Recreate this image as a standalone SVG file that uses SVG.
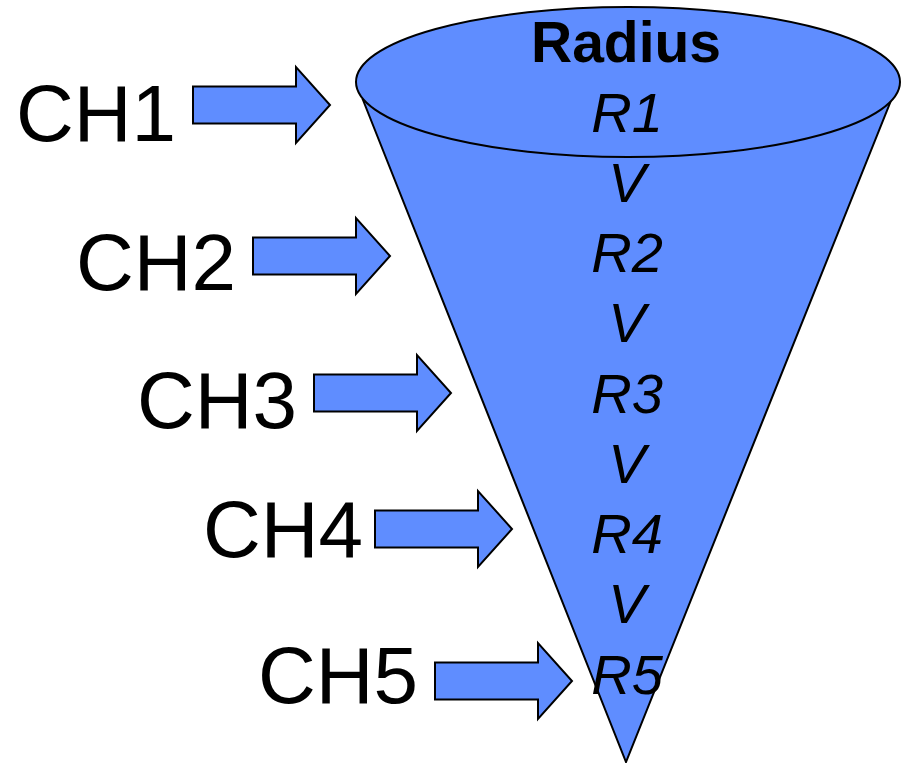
<svg xmlns="http://www.w3.org/2000/svg" xmlns:xlink="http://www.w3.org/1999/xlink" width="904" height="763" viewBox="0 0 904 763">
  <style>
    .shape { fill: #5f8dff; stroke: #000; stroke-width: 2; stroke-linejoin: miter; }
    .ch { font-family: "Liberation Sans", Arial, sans-serif; font-size: 80px; fill: #000; }
    .r { font-family: "Liberation Sans", Arial, sans-serif; font-size: 56px; font-style: italic; fill: #000; text-anchor: middle; }
    .title { font-family: "Liberation Sans", Arial, sans-serif; font-size: 57px; font-weight: bold; fill: #000; text-anchor: middle; }
  </style>
  <defs>
    <path id="arrow" d="M-137,-18.5 L-34,-18.5 L-34,-38 L0,0 L-34,38 L-34,18.5 L-137,18.5 Z"/>
  </defs>
  <rect width="904" height="763" fill="#fff"/>
  <g id="cone">
    <path class="shape" d="M363,100 L626,762 L892,98 Z"/>
    <ellipse class="shape" cx="628" cy="82" rx="272" ry="75"/>
    <text class="title" x="626" y="62">Radius</text>
    <text class="r" x="627" y="132">R1</text>
    <text class="r" x="627" y="202">V</text>
    <text class="r" x="627" y="272">R2</text>
    <text class="r" x="627" y="342">V</text>
    <text class="r" x="627" y="413">R3</text>
    <text class="r" x="627" y="483">V</text>
    <text class="r" x="627" y="553">R4</text>
    <text class="r" x="627" y="623">V</text>
    <text class="r" x="627" y="694">R5</text>
  </g>
  <g id="connectors">
    <use class="shape" xlink:href="#arrow" href="#arrow" transform="translate(330,105)"/>
    <use class="shape" xlink:href="#arrow" href="#arrow" transform="translate(390,256)"/>
    <use class="shape" xlink:href="#arrow" href="#arrow" transform="translate(451,393)"/>
    <use class="shape" xlink:href="#arrow" href="#arrow" transform="translate(512,529)"/>
    <use class="shape" xlink:href="#arrow" href="#arrow" transform="translate(572,681)"/>
  </g>
  <g id="ch1"><text class="ch" x="16" y="141">CH1</text></g>
  <g id="ch2"><text class="ch" x="76" y="290">CH2</text></g>
  <g id="ch3"><text class="ch" x="137" y="428">CH3</text></g>
  <g id="ch4"><text class="ch" x="203" y="557">CH4</text></g>
  <g id="ch5"><text class="ch" x="258" y="703">CH5</text></g>
</svg>
